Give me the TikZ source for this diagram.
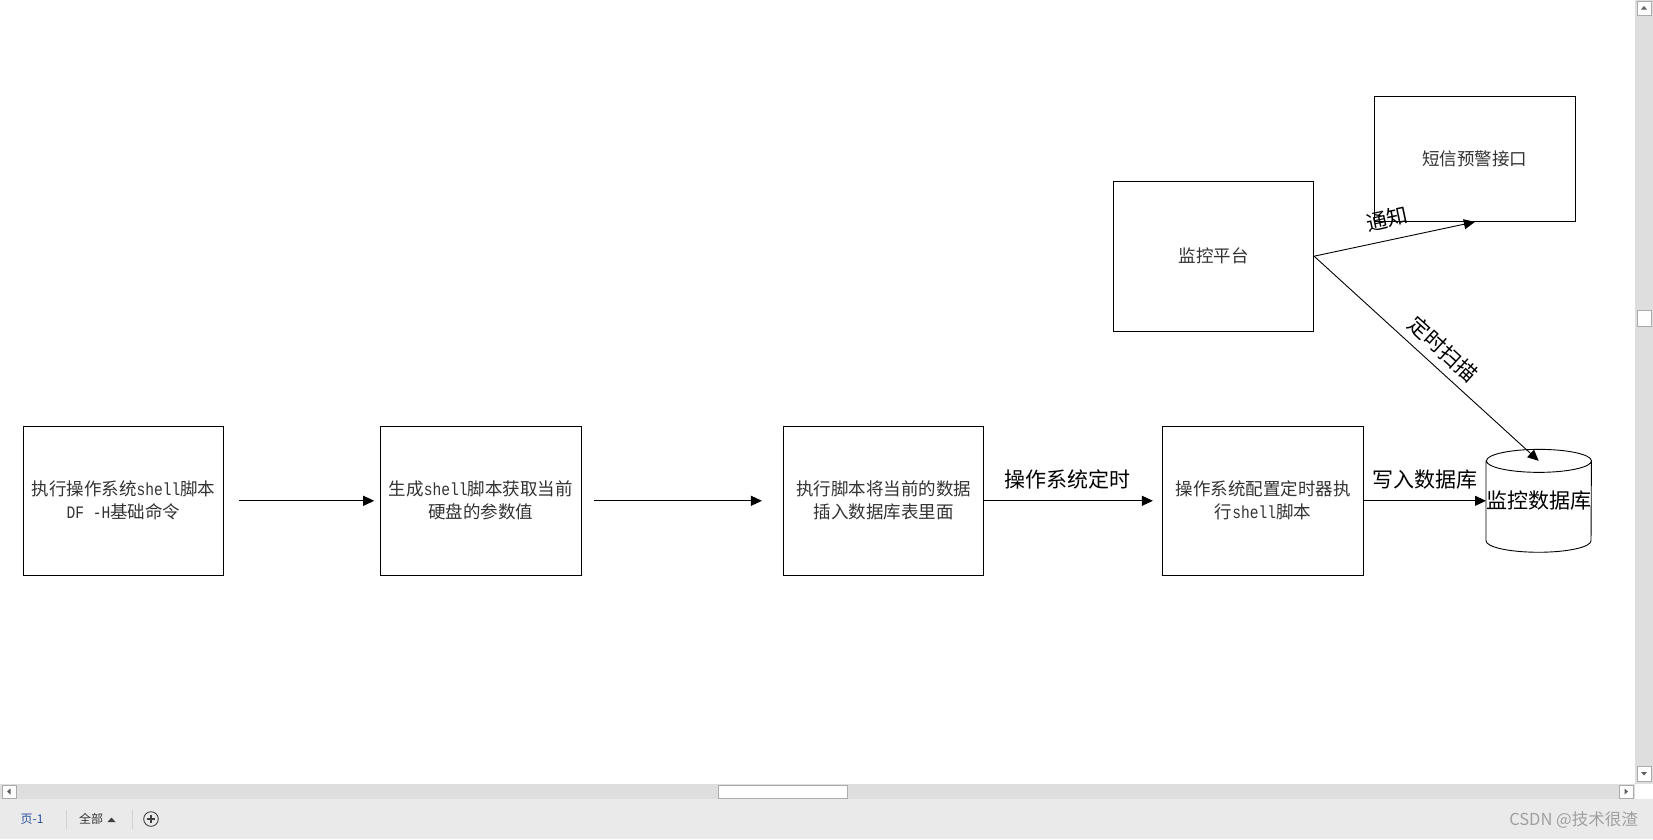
\documentclass[tikz,border=0pt]{standalone}
\usepackage{fontspec}
\setmainfont{Noto Sans CJK SC}
\newfontfamily\monolat[FakeStretch=0.833]{Liberation Mono}
\usetikzlibrary{arrows.meta,calc}
\definecolor{barbg}{HTML}{DEDEDE}
\definecolor{statusbg}{HTML}{EAEAEA}
\definecolor{btnborder}{HTML}{ABABAB}
\definecolor{pageblue}{HTML}{2B4FA0}
\definecolor{wmgray}{HTML}{A0A0A0}
\definecolor{boxtext}{HTML}{333333}
\definecolor{arrowgray}{HTML}{606060}
\newcommand{\lat}[1]{{\monolat #1}}
\begin{document}
\begin{tikzpicture}[x=1pt,y=1pt,
  procbox/.style={draw=black, line width=0.9pt, minimum width=200.3pt, minimum height=149.7pt,
    inner sep=0pt, align=center, text=boxtext, font=\fontsize{17.5}{23}\selectfont},
  dbnode/.style={minimum width=105pt, minimum height=102.5pt, inner sep=0pt, text=black,
    font=\fontsize{21}{24}\selectfont},
  flow/.style={draw=black, line width=0.9pt, -{Triangle[length=11pt,width=10pt]}},
  edgelabel/.style={font=\fontsize{21}{24}\selectfont, text=black, inner sep=3pt},
  btn/.style={draw=btnborder, fill=white, line width=0.8pt},
  uitext/.style={inner sep=0pt, font=\fontsize{12}{14}\selectfont},
]
\useasboundingbox (0,0) rectangle (1653,-839);
\fill[white] (0,0) rectangle (1653,-839);

% ---------- diagram ----------
\node[procbox] (b1) at (123.4,-500.8) {执行操作系统\lat{shell}脚本\\\lat{DF -H}基础命令};
\node[procbox] (b2) at (480.8,-500.8) {生成\lat{shell}脚本获取当前\\硬盘的参数值};
\node[procbox] (b3) at (883.5,-500.8) {执行脚本将当前的数据\\插入数据库表里面};
\node[procbox] (b4) at (1263,-500.8) {操作系统配置定时器执\\行\lat{shell}脚本};
\node[procbox] (mon) at (1213.5,-256.2) {监控平台};
\node[procbox, minimum height=125.5pt] (sms) at (1474.9,-158.7) {短信预警接口};
\node[dbnode] (db) at (1538.7,-500.8) {\raisebox{-4pt}{监控数据库}};
\draw[line width=0.9pt] ([yshift=-11.5pt]db.north west) -- ([yshift=11.5pt]db.south west)
  arc[start angle=180, end angle=360, x radius=52.5pt, y radius=11.5pt]
  -- ([yshift=-11.5pt]db.north east)
  arc[start angle=0, end angle=360, x radius=52.5pt, y radius=11.5pt];
\coordinate (dbtop) at ([yshift=-11.5pt]db.north);

\draw[flow, shorten <=15pt, shorten >=6pt] (b1) -- (b2);
\draw[flow, shorten <=12.6pt, shorten >=21pt] (b2) -- (b3);
\draw[flow, shorten >=9.5pt] (b3) -- node[edgelabel, above=8pt, pos=0.47] {操作系统定时} (b4);
\draw[flow] (b4) -- node[edgelabel, above=8pt] {写入数据库} (db);
\draw[flow] (mon.east) -- node[edgelabel, sloped, above=8pt, pos=0.48] {通知} (sms.south);
\draw[flow] (mon.east) -- node[edgelabel, sloped, above=5pt, pos=0.52] {定时扫描} (dbtop);

% ---------- window chrome ----------
\fill[barbg] (1635,0) rectangle (1653,-784);
\draw[btn] (1637,-1) rectangle (1651,-15);
\fill[arrowgray] (1641,-9.5) -- (1647,-9.5) -- (1644,-6) -- cycle;
\draw[btn] (1637,-310) rectangle (1651,-326);
\draw[btn] (1637,-766) rectangle (1651,-781);
\fill[arrowgray] (1641,-772) -- (1647,-772) -- (1644,-775.5) -- cycle;

\fill[barbg] (0,-784) rectangle (1635,-799);
\draw[btn] (2,-785) rectangle (16,-798);
\fill[arrowgray] (10.5,-788.5) -- (10.5,-794.5) -- (7,-791.5) -- cycle;
\draw[btn] (1619,-785) rectangle (1633,-798);
\fill[arrowgray] (1624.5,-788.5) -- (1624.5,-794.5) -- (1628,-791.5) -- cycle;
\draw[btn] (718,-785) rectangle (847,-798);

\fill[statusbg] (0,-799) rectangle (1653,-839);
\node[uitext, text=pageblue] (pg) at (32,-819) {页-1};
\draw[gray!35] (66,-810) -- (66,-829);
\node[uitext, text=black!80] (all) at (91,-819) {全部};
\fill[black!75] (107.5,-822) -- (115.5,-822) -- (111.5,-817.5) -- cycle;
\draw[gray!35] (132,-810) -- (132,-829);
\draw[black!75, line width=0.9pt] (151,-819) circle (7.3);
\draw[black!75, line width=1.2pt] (147,-819) -- (155,-819) (151,-815) -- (151,-823);
\node[anchor=east, inner sep=0pt, text=wmgray, font=\fontsize{16.5}{18}\selectfont] (wm) at (1638,-820) {CSDN @技术很渣};
\end{tikzpicture}
\end{document}
